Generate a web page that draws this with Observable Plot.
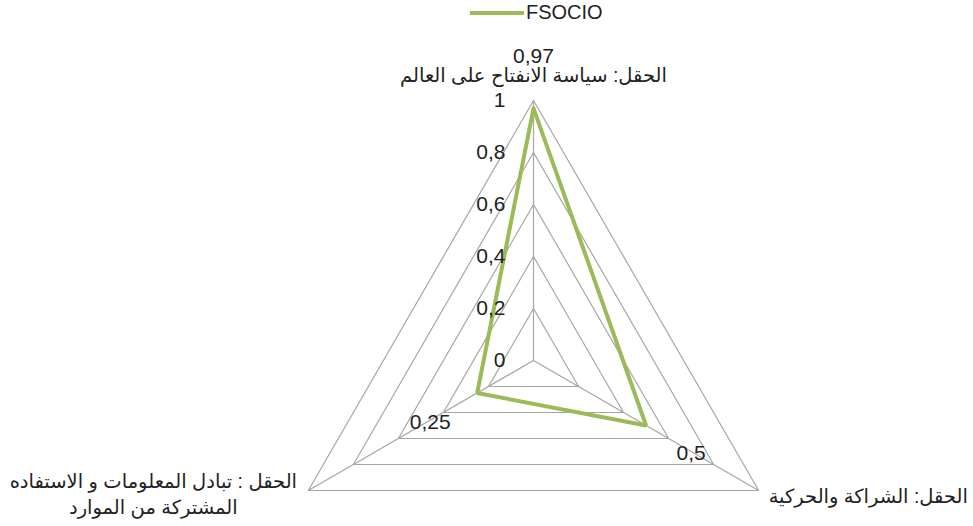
<!DOCTYPE html>
<html>
<head>
<meta charset="utf-8">
<script src="https://cdn.jsdelivr.net/npm/d3@7"></script>
<script src="https://cdn.jsdelivr.net/npm/@observablehq/plot@0.6"></script>
<style>
  body { margin: 0; background: #fff; font-family: "Liberation Sans", "DejaVu Sans", sans-serif; }
  #wrap { position: relative; width: 973px; }
  #legend { position: relative; height: 28px; }
  #legend .sw { position: absolute; left: 470px; top: 11px; width: 54px; height: 4px; background: #9bbb59; }
  #legend .lb { position: absolute; left: 526px; top: 1px; font-size: 20px; color: #222; }
</style>
</head>
<body>
<div id="wrap">
  <div id="legend"><div class="sw"></div><div class="lb" id="lbl"></div></div>
  <div id="chart"></div>
</div>
<script>
const seriesName = "FSOCIO";
const categories = [
  "الحقل: سياسة الانفتاح على العالم",
  "الحقل: الشراكة والحركية",
  "الحقل : تبادل المعلومات و الاستفاده\nالمشتركة من الموارد"
];
const values = [0.97, 0.5, 0.25];
const valueLabels = ["0,97", "0,5", "0,25"];
const tickValues = [0, 0.2, 0.4, 0.6, 0.8, 1];
const tickLabels = ["0", "0,2", "0,4", "0,6", "0,8", "1"];

document.getElementById("lbl").textContent = seriesName;

const W = 973, H = 498, R = 260, CX = 533, CY = 332;
const angles = [90, -30, 210].map(a => a * Math.PI / 180);
const pt = (i, r) => ({x: r * Math.cos(angles[i]), y: r * Math.sin(angles[i])});

const grid = [];
tickValues.slice(1).forEach(l => {
  for (let k = 0; k <= categories.length; k++) {
    const p = pt(k % categories.length, l);
    grid.push({...p, level: l});
  }
});
const spokes = categories.map((c, i) => ({x1: 0, y1: 0, x2: pt(i, 1).x, y2: pt(i, 1).y}));
const series = [];
for (let k = 0; k <= values.length; k++) {
  const i = k % values.length;
  series.push(pt(i, values[i]));
}
const ticks = tickValues.map((v, i) => ({x: 0, y: v, label: tickLabels[i]}));
const dataLabelOffsets = [[0, -52], [45, 28], [-47, 29]];
const dataLabels = values.map((v, i) => ({...pt(i, v), label: valueLabels[i], dx: dataLabelOffsets[i][0], dy: dataLabelOffsets[i][1]}));
const catOffsets = [[0, -27, "middle"], [10, 4, "start"], [-155, 2, "middle"]];
const cats = categories.map((c, i) => ({...pt(i, 1), label: c, dx: catOffsets[i][0], dy: catOffsets[i][1], anchor: catOffsets[i][2]}));

const textMarks = [];
dataLabels.forEach(d => textMarks.push(Plot.text([d], {x: "x", y: "y", text: "label", dx: d.dx, dy: d.dy, fontSize: 21, fill: "#222"})));
cats.forEach(d => textMarks.push(Plot.text([d], {x: "x", y: "y", text: "label", dx: d.dx, dy: d.dy, textAnchor: d.anchor, fontSize: 19.5, fill: "#222", lineHeight: 1.33})));

const chart = Plot.plot({
  width: W, height: H, margin: 0,
  style: {fontFamily: '"Liberation Sans", "DejaVu Sans", sans-serif', background: "#fff"},
  x: {domain: [-CX / R, (W - CX) / R], axis: null},
  y: {domain: [-(H - CY) / R, CY / R], axis: null},
  marks: [
    Plot.line(grid, {x: "x", y: "y", z: "level", stroke: "#a6a6a6", strokeWidth: 1.2}),
    Plot.link(spokes, {x1: "x1", y1: "y1", x2: "x2", y2: "y2", stroke: "#a6a6a6", strokeWidth: 1.2}),
    Plot.line(series, {x: "x", y: "y", stroke: "#9bbb59", strokeWidth: 4, strokeLinejoin: "miter"}),
    Plot.text(ticks, {x: "x", y: "y", text: "label", textAnchor: "end", dx: -28, fontSize: 21, fill: "#222"}),
    ...textMarks
  ]
});
document.getElementById("chart").appendChild(chart);
</script>
</body>
</html>
